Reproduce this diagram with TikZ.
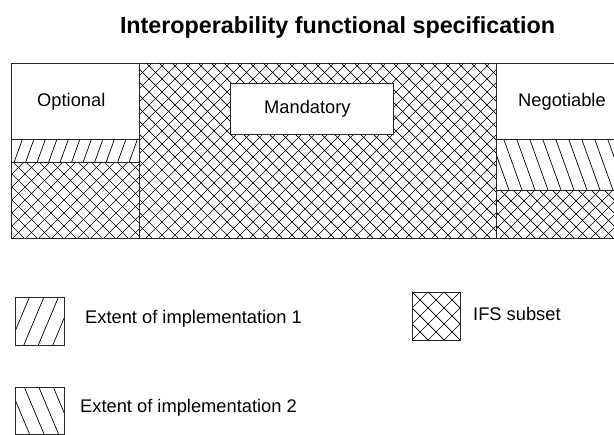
\documentclass[tikz,border=0pt]{standalone}
\usepackage{fontspec}
\setmainfont{Liberation Sans}
\tikzset{
  frame/.style={draw=black!85, line width=0.9pt},
  hline/.style={line width=0.7pt, black},
  lbl/.style={font=\fontsize{18.3}{20}\selectfont, inner sep=0pt, anchor=base west},
}
% parallel hatch lines in the box (#1,#2)-(#3,#4); #5 = horizontal spacing,
% #6 = cotangent of the slope angle
\newcommand\hatchup[6]{%
  \begin{scope}
    \clip (#1,#2) rectangle (#3,#4);
    \pgfmathsetmacro\hh{#4-#2}
    \pgfmathsetmacro\dd{\hh*#6}
    \pgfmathtruncatemacro\nn{(#3-#1+\dd)/#5+1}
    \foreach \i in {0,...,\nn}
      \draw[hline] ({#1-\dd+\i*#5},#4) -- ++(\dd,-\hh);
  \end{scope}}
\newcommand\hatchdown[6]{%
  \begin{scope}
    \clip (#1,#2) rectangle (#3,#4);
    \pgfmathsetmacro\hh{#4-#2}
    \pgfmathsetmacro\dd{\hh*#6}
    \pgfmathtruncatemacro\nn{(#3-#1+\dd)/#5+1}
    \foreach \i in {0,...,\nn}
      \draw[hline] ({#1-\dd+\i*#5},#2) -- ++(\dd,\hh);
  \end{scope}}
\newcommand\crosshatch[5]{%
  \hatchup{#1}{#2}{#3}{#4}{#5}{1}\hatchdown{#1}{#2}{#3}{#4}{#5}{1}}
\begin{document}
\begin{tikzpicture}[x=1pt,y=-1pt]
  \useasboundingbox (0,0) rectangle (614,435);

  % title
  \node[font=\fontsize{23.3}{26}\selectfont\bfseries] (title) at (337.5,27)
    {Interoperability functional specification};

  % specification bar: hatched areas
  \crosshatch{11}{162}{139}{238}{13}
  \crosshatch{139}{63}{496}{238}{13}
  \crosshatch{496}{190}{616}{238}{13}
  \hatchup{11}{139}{139}{162}{11.5}{0.36}
  \hatchdown{496}{139}{616}{190}{13}{0.36}

  % specification bar: outlines
  \draw[frame] (11,63) rectangle (616,238);
  \draw[frame] (139,63) -- (139,238);
  \draw[frame] (496,63) -- (496,238);
  \draw[frame] (11,139) -- (139,139);
  \draw[frame] (11,162) -- (139,162);
  \draw[frame] (496,139) -- (616,139);
  \draw[frame] (496,190) -- (616,190);

  % column labels
  \node[lbl] (optional) at (37,107) {Optional};
  \node[frame, fill=white, minimum width=163pt, minimum height=51pt]
    (mandbox) at (311.5,108.5) {};
  \node[lbl] (mandatory) at (264,114) {Mandatory};
  \node[lbl] (negotiable) at (518,107) {Negotiable};

  % legend
  \hatchup{15}{297}{64}{345}{14.5}{0.42}
  \draw[frame] (15,297) rectangle (64,345);
  \node[lbl] (leg1) at (85,324) {Extent of implementation 1};

  \hatchdown{15}{387}{64}{434}{14.5}{0.42}
  \draw[frame] (15,387) rectangle (64,434);
  \node[lbl] (leg2) at (80,413) {Extent of implementation 2};

  \crosshatch{412}{292}{460}{340}{16}
  \draw[frame] (412,292) rectangle (460,340);
  \node[lbl] (leg3) at (473,321) {IFS subset};
\end{tikzpicture}
\end{document}
